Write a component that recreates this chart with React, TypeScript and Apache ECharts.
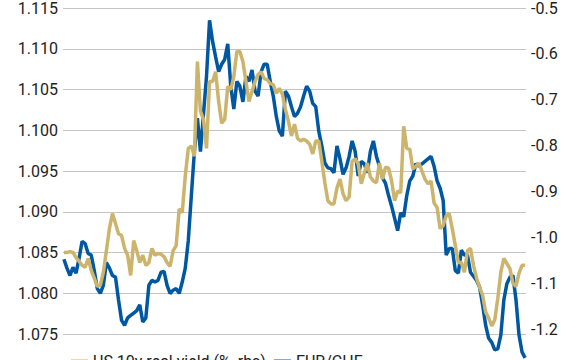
import React, { useEffect, useRef } from "react";
import * as echarts from "echarts";

const seriesNames = ["US 10y real yield (%, rhs)", "EUR/CHF"];

const eurChf = [
  1.0842, 1.0831, 1.0822, 1.0832, 1.0825, 1.0843, 1.0864, 1.0861, 1.0849, 1.0847,
  1.0828, 1.0806, 1.0800, 1.0810, 1.0838, 1.0831, 1.0822, 1.0820, 1.0792, 1.0767,
  1.0761, 1.0770, 1.0773, 1.0776, 1.0779, 1.0786, 1.0765, 1.0770, 1.0810, 1.0816,
  1.0814, 1.0816, 1.0826, 1.0827, 1.0810, 1.0800, 1.0804, 1.0806, 1.0800, 1.0814,
  1.0831, 1.0865, 1.0920, 1.0974, 1.1015, 1.0974, 1.1020, 1.1066, 1.1135, 1.1109,
  1.1090, 1.1072, 1.1081, 1.1087, 1.1106, 1.1054, 1.1026, 1.1060, 1.1054, 1.1035,
  1.1066, 1.1060, 1.1074, 1.1048, 1.1042, 1.1072, 1.1081, 1.1081, 1.1060, 1.1042,
  1.1017, 1.0999, 1.0993, 1.1048, 1.1042, 1.1029, 1.1017, 1.1021, 1.1029, 1.1042,
  1.1054, 1.1048, 1.1033, 1.1029, 1.0999, 1.0981, 1.0960, 1.0954, 1.0953, 1.0948,
  1.0981, 1.0965, 1.0946, 1.0954, 1.0968, 1.0987, 1.0974, 1.0944, 1.0962, 1.0959,
  1.0948, 1.0974, 1.0987, 1.0968, 1.0956, 1.0942, 1.0935, 1.0920, 1.0907, 1.0892,
  1.0877, 1.0899, 1.0894, 1.0920, 1.0938, 1.0944, 1.0959, 1.0956, 1.0959, 1.0962,
  1.0965, 1.0968, 1.0956, 1.0938, 1.0929, 1.0914, 1.0847, 1.0855, 1.0855, 1.0828,
  1.0825, 1.0853, 1.0847, 1.0847, 1.0826, 1.0821, 1.0816, 1.0808, 1.0786, 1.0761,
  1.0745, 1.0740, 1.0731, 1.0732, 1.0749, 1.0792, 1.0812, 1.0820, 1.0822, 1.0792,
  1.0749, 1.0728, 1.0721,
];

const usRealYield = [
  -1.033, -1.033, -1.031, -1.033, -1.044, -1.052, -1.061, -1.065, -1.046, -1.072,
  -1.089, -1.107, -1.104, -1.076, -1.029, -0.981, -0.948, -0.970, -0.992, -0.996,
  -1.024, -1.039, -1.083, -1.007, -1.029, -1.055, -1.039, -1.061, -1.055, -1.024,
  -1.039, -1.035, -1.037, -1.042, -1.055, -1.063, -1.029, -1.018, -0.938, -0.946,
  -0.866, -0.806, -0.801, -0.823, -0.617, -0.725, -0.743, -0.806, -0.660, -0.660,
  -0.639, -0.704, -0.751, -0.743, -0.671, -0.678, -0.649, -0.595, -0.595, -0.617,
  -0.660, -0.704, -0.682, -0.660, -0.645, -0.639, -0.654, -0.656, -0.665, -0.667,
  -0.686, -0.675, -0.688, -0.721, -0.747, -0.779, -0.753, -0.784, -0.790, -0.786,
  -0.790, -0.797, -0.818, -0.790, -0.790, -0.834, -0.881, -0.920, -0.927, -0.927,
  -0.892, -0.873, -0.905, -0.920, -0.912, -0.834, -0.829, -0.840, -0.883, -0.860,
  -0.838, -0.868, -0.877, -0.881, -0.838, -0.873, -0.847, -0.849, -0.877, -0.920,
  -0.899, -0.903, -0.758, -0.806, -0.808, -0.851, -0.845, -0.838, -0.855, -0.873,
  -0.883, -0.877, -0.925, -0.935, -0.981, -0.974, -0.953, -0.948, -0.981, -1.018,
  -1.055, -1.055, -1.076, -1.029, -1.024, -1.061, -1.089, -1.109, -1.126, -1.163,
  -1.176, -1.193, -1.180, -1.133, -1.076, -1.046, -1.057, -1.068, -1.100, -1.107,
  -1.078, -1.061, -1.061,
];

const leftAxis = { min: 1.07, max: 1.115, interval: 0.005 };
const rightAxis = { min: -1.3, max: -0.5, interval: 0.1 };

const BLUE = "#0058A2";
const GOLD = "#CDB46C";
const FONT = "Roboto";

export default function App() {
  const ref = useRef<HTMLDivElement>(null);

  useEffect(() => {
    if (!ref.current) return;
    const chart = echarts.init(ref.current, undefined, { renderer: "svg" });
    const n = eurChf.length;
    chart.setOption({
      animation: false,
      backgroundColor: "#ffffff",
      grid: { left: 63, right: 55, top: 6, height: 369, containLabel: false },
      legend: {
        data: seriesNames,
        left: 66,
        top: 348,
        itemWidth: 17,
        itemHeight: 3,
        itemGap: 8,
        icon: "rect",
        textStyle: { fontFamily: FONT, fontSize: 16, color: "#222" },
      },
      xAxis: {
        type: "value",
        min: -0.3,
        max: n - 1 + 0.3,
        show: false,
        splitLine: { show: false },
      },
      yAxis: [
        {
          type: "value",
          position: "left",
          min: leftAxis.min,
          max: leftAxis.max,
          interval: leftAxis.interval,
          axisLine: { show: false },
          axisTick: { show: false },
          axisLabel: {
            showMinLabel: false,
            margin: 5,
            fontFamily: FONT,
            fontSize: 16,
            color: "#222",
            formatter: (v: number) => v.toFixed(3),
          },
          splitLine: { show: true, lineStyle: { color: "#C4C4C4", width: 1 } },
        },
        {
          type: "value",
          position: "right",
          min: rightAxis.min,
          max: rightAxis.max,
          interval: rightAxis.interval,
          axisLine: { show: false },
          axisTick: { show: false },
          axisLabel: {
            showMinLabel: false,
            margin: 5,
            fontFamily: FONT,
            fontSize: 16,
            color: "#222",
            formatter: (v: number) => v.toFixed(1),
          },
          splitLine: { show: false },
        },
      ],
      series: [
        {
          name: seriesNames[0],
          type: "line",
          yAxisIndex: 1,
          data: usRealYield.map((v, i) => [i, v]),
          showSymbol: false,
          symbol: "none",
          lineStyle: { color: GOLD, width: 3.5 },
          itemStyle: { color: GOLD },
          z: 2,
        },
        {
          name: seriesNames[1],
          type: "line",
          yAxisIndex: 0,
          data: eurChf.map((v, i) => [i, v]),
          showSymbol: false,
          symbol: "none",
          lineStyle: { color: BLUE, width: 3.5 },
          itemStyle: { color: BLUE },
          z: 1,
        },
      ],
    });
    return () => chart.dispose();
  }, []);

  return (
    <div
      ref={ref}
      style={{ position: "fixed", left: 0, top: 0, width: 581, height: 385, background: "#fff" }}
    />
  );
}
